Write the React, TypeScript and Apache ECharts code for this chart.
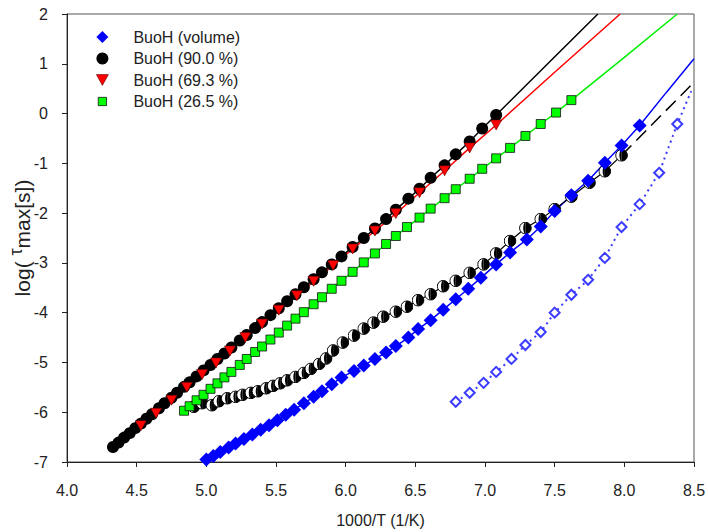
import React, { useEffect, useRef } from "react";
import * as echarts from "echarts";

// ---------- data ----------
const blueVolume: [number, number][] = [
  [5.0, -6.95], [5.05, -6.88], [5.1, -6.8], [5.16, -6.71], [5.21, -6.63], [5.27, -6.54],
  [5.33, -6.45], [5.39, -6.35], [5.45, -6.26], [5.51, -6.16], [5.57, -6.05], [5.63, -5.95],
  [5.7, -5.82], [5.77, -5.69], [5.83, -5.58], [5.9, -5.44], [5.97, -5.3], [6.06, -5.17],
  [6.13, -5.06], [6.21, -4.93], [6.29, -4.8], [6.36, -4.67], [6.45, -4.5], [6.52, -4.33],
  [6.61, -4.15], [6.7, -3.94], [6.79, -3.73], [6.88, -3.52], [6.97, -3.3], [7.08, -3.03],
  [7.18, -2.79], [7.3, -2.53], [7.4, -2.27], [7.5, -1.96], [7.62, -1.64], [7.74, -1.35],
  [7.86, -0.99], [7.98, -0.64], [8.11, -0.24],
];
const blueFitExt: [number, number][] = [[8.3, 0.42], [8.5, 1.1]];

const black90: [number, number][] = [
  [4.33, -6.7], [4.37, -6.61], [4.41, -6.51], [4.45, -6.42], [4.49, -6.32], [4.53, -6.23],
  [4.57, -6.13], [4.61, -6.04], [4.66, -5.92], [4.7, -5.82], [4.75, -5.71], [4.79, -5.61],
  [4.84, -5.49], [4.88, -5.4], [4.93, -5.28], [4.98, -5.16], [5.03, -5.05], [5.08, -4.93],
  [5.13, -4.82], [5.18, -4.7], [5.24, -4.56], [5.29, -4.45], [5.35, -4.31], [5.4, -4.19],
  [5.46, -4.05], [5.52, -3.91], [5.58, -3.77], [5.64, -3.63], [5.7, -3.49], [5.77, -3.33],
  [5.83, -3.19], [5.9, -3.03], [5.97, -2.87], [6.05, -2.68], [6.13, -2.5], [6.21, -2.31],
  [6.29, -2.12], [6.36, -1.93], [6.45, -1.71], [6.53, -1.51], [6.61, -1.29], [6.71, -1.04],
  [6.79, -0.82], [6.89, -0.56], [6.98, -0.3], [7.08, -0.03],
];
const blackFitExt: [number, number][] = [[7.45, 1.0], [7.81, 2.0]];

const red693: [number, number][] = [
  [4.53, -6.27], [4.64, -6.02], [4.75, -5.76], [4.86, -5.5], [4.97, -5.24], [5.07, -5.01],
  [5.17, -4.77], [5.28, -4.5], [5.4, -4.23], [5.52, -3.95], [5.65, -3.66], [5.77, -3.37],
  [5.91, -3.05], [6.05, -2.72], [6.21, -2.36], [6.36, -2.01], [6.53, -1.59], [6.71, -1.15],
  [6.89, -0.69], [7.08, -0.23],
];
const redFitExt: [number, number][] = [[7.5, 0.83], [7.97, 2.0]];

const green265: [number, number][] = [
  [4.84, -5.97], [4.88, -5.88], [4.93, -5.76], [4.98, -5.65], [5.03, -5.53], [5.08, -5.42],
  [5.13, -5.3], [5.18, -5.19], [5.24, -5.05], [5.29, -4.93], [5.35, -4.79], [5.4, -4.68],
  [5.46, -4.54], [5.52, -4.4], [5.58, -4.26], [5.64, -4.12], [5.7, -3.99], [5.77, -3.83],
  [5.83, -3.69], [5.9, -3.52], [5.97, -3.36], [6.05, -3.18], [6.13, -2.99], [6.21, -2.81],
  [6.29, -2.62], [6.36, -2.46], [6.44, -2.28], [6.53, -2.09], [6.61, -1.91], [6.71, -1.7],
  [6.79, -1.52], [6.89, -1.31], [6.98, -1.11], [7.08, -0.9], [7.18, -0.69], [7.29, -0.45],
  [7.4, -0.21], [7.51, 0.02], [7.62, 0.27],
];
const greenFitExt: [number, number][] = [[8.0, 1.13], [8.38, 2.0]];

const half90: [number, number][] = [
  [4.91, -5.89], [4.97, -5.82], [5.04, -5.86], [5.09, -5.78], [5.15, -5.72], [5.21, -5.69],
  [5.26, -5.65], [5.32, -5.61], [5.37, -5.58], [5.43, -5.52], [5.48, -5.47], [5.53, -5.42],
  [5.58, -5.36], [5.64, -5.29], [5.7, -5.21], [5.75, -5.13], [5.81, -5.03], [5.86, -4.92],
  [5.91, -4.76], [5.98, -4.6], [6.06, -4.46], [6.13, -4.32], [6.2, -4.2], [6.27, -4.08],
  [6.36, -3.98], [6.44, -3.88], [6.52, -3.75], [6.61, -3.63], [6.7, -3.47], [6.79, -3.36],
  [6.89, -3.2], [6.99, -3.03], [7.08, -2.81], [7.18, -2.56], [7.29, -2.3], [7.4, -2.12],
  [7.5, -1.92], [7.62, -1.67], [7.75, -1.39], [7.86, -1.16], [7.98, -0.84],
];
const halfDashExt: [number, number][] = [[7.98, -0.84], [8.5, 0.63]];

const openBlue: [number, number][] = [
  [6.79, -5.79], [6.89, -5.61], [6.99, -5.41], [7.08, -5.19], [7.19, -4.93], [7.29, -4.65],
  [7.4, -4.39], [7.5, -4.0], [7.62, -3.64], [7.74, -3.34], [7.86, -2.9], [7.98, -2.28],
  [8.11, -1.82], [8.25, -1.19], [8.38, -0.21],
];
const openBlueExt: [number, number][] = [[8.48, 0.45]];

const legendNames = ["BuoH (volume)", "BuoH (90.0 %)", "BuoH (69.3 %)", "BuoH (26.5 %)"];
const xTicks = { min: 4, max: 8.5, interval: 0.5 };
const yTicks = { min: -7, max: 2, interval: 1 };

const FONT = "Liberation Sans, Arial, sans-serif";

const halfSvg =
  "<svg xmlns='http://www.w3.org/2000/svg' width='24' height='24' viewBox='0 0 24 24'>" +
  "<circle cx='12' cy='12' r='10.8' fill='white' stroke='black' stroke-width='1.8'/>" +
  "<path d='M12 1.2 A10.8 10.8 0 0 1 12 22.8 Z' fill='black'/>" +
  "<path d='M12 1.2 A4 10.8 0 0 0 12 22.8 Z' fill='black'/>" +
  "</svg>";
const halfSymbol = "image://data:image/svg+xml;charset=utf-8," + encodeURIComponent(halfSvg);
const downTriangle = "path://M0,0 L10,0 L5,9 Z";
const smallSquare = "path://M0,0 L0,0 M2,2 L11,2 L11,11 L2,11 Z M13,13 L13,13";

export default function App() {
  const ref = useRef<HTMLDivElement>(null);
  useEffect(() => {
    if (!ref.current) return;
    const chart = echarts.init(ref.current, undefined, { renderer: "svg" });
    const fitLine = (name: string, data: [number, number][], color: string, width = 1.5, type: any = "solid", z = 2) => ({
      name,
      type: "line",
      data,
      showSymbol: false,
      symbol: "none",
      lineStyle: { color, width, type, opacity: 1 },
      itemStyle: { color },
      silent: true,
      z,
    });
    chart.setOption({
      animation: false,
      backgroundColor: "#ffffff",
      textStyle: { fontFamily: FONT },
      grid: {
        left: 67, right: 14, top: 14, bottom: 70,
        outerBoundsMode: "none",
        containLabel: false,
        show: true, borderColor: "#555", borderWidth: 1, backgroundColor: "transparent",
      },
      legend: {
        data: [
          { name: legendNames[0], icon: "diamond", itemStyle: { color: "#0000ff", opacity: 1 } },
          { name: legendNames[1], icon: "circle", itemStyle: { color: "#000000", opacity: 1 } },
          { name: legendNames[2], icon: downTriangle, itemStyle: { color: "#ff0000", borderColor: "#5a0000", borderWidth: 0.6, opacity: 1 } },
          { name: legendNames[3], icon: smallSquare, itemStyle: { color: "#00ff00", borderColor: "#111", borderWidth: 0.8, opacity: 1 } },
        ],
        orient: "vertical",
        left: 91,
        top: 24,
        itemWidth: 12,
        itemHeight: 12,
        itemGap: 5.5,
        selectedMode: false,
        textStyle: { fontFamily: FONT, fontSize: 16, color: "#222", padding: [0, 0, 0, 20] },
      },
      xAxis: {
        type: "value",
        ...xTicks,
        axisLine: { show: true, onZero: false, lineStyle: { color: "#222", width: 1 } },
        axisTick: { show: true, inside: false, length: 5, lineStyle: { color: "#222" } },
        splitLine: { show: false },
        axisLabel: { fontFamily: FONT, fontSize: 16, color: "#222", margin: 20, formatter: (v: number) => v.toFixed(1) },
        name: "1000/T (1/K)",
        nameLocation: "middle",
        nameGap: 50,
        nameMoveOverlap: false,
        nameTextStyle: { fontFamily: FONT, fontSize: 16, color: "#222" },
      },
      yAxis: {
        type: "value",
        ...yTicks,
        axisLine: { show: true, onZero: false, lineStyle: { color: "#222", width: 1 } },
        axisTick: { show: true, inside: false, length: 5, lineStyle: { color: "#222" } },
        splitLine: { show: false },
        axisLabel: { fontFamily: FONT, fontSize: 16, color: "#222", margin: 19 },
        name: "{a|log( }{t|τ}{a|max[s])}",
        nameLocation: "middle",
        nameGap: 34,
        nameRotate: 90,
        nameMoveOverlap: false,
        nameTextStyle: {
          fontFamily: FONT,
          color: "#222",
          rich: {
            a: { fontFamily: FONT, fontSize: 21, color: "#222", lineHeight: 26, verticalAlign: "bottom" },
            t: { fontFamily: FONT, fontSize: 18, color: "#222", lineHeight: 26, verticalAlign: "top" },
          },
        },
      },
      series: [
        fitLine("fitBlack", [...black90, ...blackFitExt], "#000000"),
        fitLine("fitRed", [...red693, ...redFitExt], "#ff0000"),
        fitLine("fitGreen", [...green265, ...greenFitExt], "#00ee00"),
        fitLine("fitBlue", [...blueVolume, ...blueFitExt], "#0000ff"),
        fitLine("fitHalf", half90, "#000000", 1.2),
        fitLine("dashHalf", halfDashExt, "#000000", 1.5, [14, 7]),
        {
          name: "openBlue",
          type: "line",
          data: [...openBlue, ...openBlueExt].map((p, i) => (i < openBlue.length ? p : { value: p, symbol: "none" })),
          symbol: "emptyDiamond",
          symbolSize: 10,
          showAllSymbol: true,
          itemStyle: { color: "#3c3cff", borderWidth: 1.5, opacity: 1 },
          lineStyle: { color: "#3c3cff", width: 2, type: [2, 4] },
          silent: true,
          z: 3,
        },
        {
          name: "half90",
          type: "scatter",
          data: half90,
          symbol: halfSymbol,
          symbolSize: 13,
          itemStyle: { opacity: 1 },
          z: 4,
          silent: true,
        },
        {
          name: legendNames[3],
          type: "scatter",
          data: green265,
          symbol: "rect",
          symbolSize: 9,
          itemStyle: { color: "#00ff00", borderColor: "#111", borderWidth: 0.8, opacity: 1 },
          z: 5,
        },
        {
          name: legendNames[1],
          type: "scatter",
          data: black90,
          symbol: "circle",
          symbolSize: 12,
          itemStyle: { color: "#000000", opacity: 1 },
          z: 5,
        },
        {
          name: legendNames[2],
          type: "scatter",
          data: red693,
          symbol: downTriangle,
          symbolSize: [11, 10],
          itemStyle: { color: "#ff0000", borderColor: "#5a0000", borderWidth: 0.6, opacity: 1 },
          z: 6,
        },
        {
          name: legendNames[0],
          type: "scatter",
          data: blueVolume,
          symbol: "diamond",
          symbolSize: 14,
          itemStyle: { color: "#0000ff", opacity: 1 },
          z: 5,
        },
      ],
    });
    return () => chart.dispose();
  }, []);
  return <div ref={ref} style={{ width: 708, height: 532, position: "absolute", left: 0, top: 0 }} />;
}
